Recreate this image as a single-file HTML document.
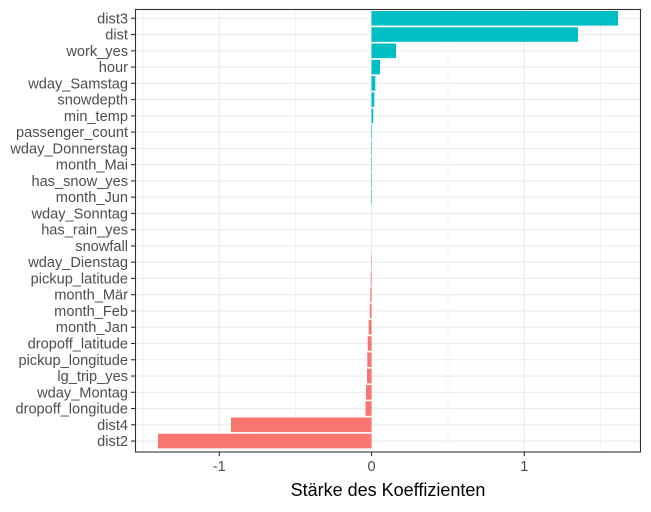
<!DOCTYPE html>
<html><head><meta charset="utf-8"><style>body{margin:0;background:#fff}</style></head><body>
<svg width="651" height="507" xmlns="http://www.w3.org/2000/svg" font-family="Liberation Sans, sans-serif">
<rect width="651" height="507" fill="#fff"/>
<g stroke="#ebebeb" stroke-width="0.6">
<line x1="143" y1="9" x2="143" y2="452"/><line x1="295.5" y1="9" x2="295.5" y2="452"/><line x1="448" y1="9" x2="448" y2="452"/><line x1="600.5" y1="9" x2="600.5" y2="452"/>
</g>
<g stroke="#ebebeb" stroke-width="1.1">
<line x1="219.3" y1="9" x2="219.3" y2="452"/><line x1="371.5" y1="9" x2="371.5" y2="452"/><line x1="524.3" y1="9" x2="524.3" y2="452"/>
<line x1="135" x2="641" y1="18.3" y2="18.3"/><line x1="135" x2="641" y1="34.56" y2="34.56"/><line x1="135" x2="641" y1="50.82" y2="50.82"/><line x1="135" x2="641" y1="67.08" y2="67.08"/><line x1="135" x2="641" y1="83.34" y2="83.34"/><line x1="135" x2="641" y1="99.6" y2="99.6"/><line x1="135" x2="641" y1="115.86" y2="115.86"/><line x1="135" x2="641" y1="132.12" y2="132.12"/><line x1="135" x2="641" y1="148.38" y2="148.38"/><line x1="135" x2="641" y1="164.64" y2="164.64"/><line x1="135" x2="641" y1="180.9" y2="180.9"/><line x1="135" x2="641" y1="197.16" y2="197.16"/><line x1="135" x2="641" y1="213.42" y2="213.42"/><line x1="135" x2="641" y1="229.68" y2="229.68"/><line x1="135" x2="641" y1="245.94" y2="245.94"/><line x1="135" x2="641" y1="262.2" y2="262.2"/><line x1="135" x2="641" y1="278.46" y2="278.46"/><line x1="135" x2="641" y1="294.72" y2="294.72"/><line x1="135" x2="641" y1="310.98" y2="310.98"/><line x1="135" x2="641" y1="327.24" y2="327.24"/><line x1="135" x2="641" y1="343.5" y2="343.5"/><line x1="135" x2="641" y1="359.76" y2="359.76"/><line x1="135" x2="641" y1="376.02" y2="376.02"/><line x1="135" x2="641" y1="392.28" y2="392.28"/><line x1="135" x2="641" y1="408.54" y2="408.54"/><line x1="135" x2="641" y1="424.8" y2="424.8"/><line x1="135" x2="641" y1="441.06" y2="441.06"/>
</g>
<g fill="#00bfc4">
<rect x="371.5" y="11" width="246.5" height="14.6"/>
<rect x="371.5" y="27.26" width="206.5" height="14.6"/>
<rect x="371.5" y="43.52" width="24.5" height="14.6"/>
<rect x="371.5" y="59.78" width="8.5" height="14.6"/>
<rect x="371.5" y="76.04" width="3.8" height="14.6"/>
<rect x="371.5" y="92.3" width="2.8" height="14.6"/>
<rect x="371.5" y="108.56" width="1.8" height="14.6"/>
<rect x="371.5" y="124.82" width="0.6" height="14.6"/>
<rect x="371.5" y="141.08" width="0.5" height="14.6"/>
<rect x="371.5" y="157.34" width="0.5" height="14.6"/>
<rect x="371.5" y="173.6" width="0.5" height="14.6"/>
<rect x="371.5" y="189.86" width="0.5" height="14.6"/>
</g>
<g fill="#f8766d">
<rect x="371" y="254.9" width="0.5" height="14.6"/>
<rect x="370.7" y="271.16" width="0.8" height="14.6"/>
<rect x="370.3" y="287.42" width="1.2" height="14.6"/>
<rect x="369.8" y="303.68" width="1.7" height="14.6"/>
<rect x="368.7" y="319.94" width="2.8" height="14.6"/>
<rect x="367.7" y="336.2" width="3.8" height="14.6"/>
<rect x="367.3" y="352.46" width="4.2" height="14.6"/>
<rect x="367" y="368.72" width="4.5" height="14.6"/>
<rect x="366" y="384.98" width="5.5" height="14.6"/>
<rect x="365.5" y="401.24" width="6" height="14.6"/>
<rect x="231" y="417.5" width="140.5" height="14.6"/>
<rect x="158" y="433.76" width="213.5" height="14.6"/>
</g>
<rect x="135.5" y="9.5" width="505" height="442.5" fill="none" stroke="#333" stroke-width="1.1"/>
<g font-size="14.6" fill="#4d4d4d" text-anchor="end">
<text x="128" y="23.3">dist3</text><text x="128" y="39.56">dist</text><text x="128" y="55.82">work_yes</text><text x="128" y="72.08">hour</text><text x="128" y="88.34">wday_Samstag</text><text x="128" y="104.6">snowdepth</text><text x="128" y="120.86">min_temp</text><text x="128" y="137.12">passenger_count</text><text x="128" y="153.38">wday_Donnerstag</text><text x="128" y="169.64">month_Mai</text><text x="128" y="185.9">has_snow_yes</text><text x="128" y="202.16">month_Jun</text><text x="128" y="218.42">wday_Sonntag</text><text x="128" y="234.68">has_rain_yes</text><text x="128" y="250.94">snowfall</text><text x="128" y="267.2">wday_Dienstag</text><text x="128" y="283.46">pickup_latitude</text><text x="128" y="299.72">month_Mär</text><text x="128" y="315.98">month_Feb</text><text x="128" y="332.24">month_Jan</text><text x="128" y="348.5">dropoff_latitude</text><text x="128" y="364.76">pickup_longitude</text><text x="128" y="381.02">lg_trip_yes</text><text x="128" y="397.28">wday_Montag</text><text x="128" y="413.54">dropoff_longitude</text><text x="128" y="429.8">dist4</text><text x="128" y="446.06">dist2</text>
</g>
<g stroke="#333" stroke-width="1.1">
<line x1="131" x2="135" y1="18.3" y2="18.3"/><line x1="131" x2="135" y1="34.56" y2="34.56"/><line x1="131" x2="135" y1="50.82" y2="50.82"/><line x1="131" x2="135" y1="67.08" y2="67.08"/><line x1="131" x2="135" y1="83.34" y2="83.34"/><line x1="131" x2="135" y1="99.6" y2="99.6"/><line x1="131" x2="135" y1="115.86" y2="115.86"/><line x1="131" x2="135" y1="132.12" y2="132.12"/><line x1="131" x2="135" y1="148.38" y2="148.38"/><line x1="131" x2="135" y1="164.64" y2="164.64"/><line x1="131" x2="135" y1="180.9" y2="180.9"/><line x1="131" x2="135" y1="197.16" y2="197.16"/><line x1="131" x2="135" y1="213.42" y2="213.42"/><line x1="131" x2="135" y1="229.68" y2="229.68"/><line x1="131" x2="135" y1="245.94" y2="245.94"/><line x1="131" x2="135" y1="262.2" y2="262.2"/><line x1="131" x2="135" y1="278.46" y2="278.46"/><line x1="131" x2="135" y1="294.72" y2="294.72"/><line x1="131" x2="135" y1="310.98" y2="310.98"/><line x1="131" x2="135" y1="327.24" y2="327.24"/><line x1="131" x2="135" y1="343.5" y2="343.5"/><line x1="131" x2="135" y1="359.76" y2="359.76"/><line x1="131" x2="135" y1="376.02" y2="376.02"/><line x1="131" x2="135" y1="392.28" y2="392.28"/><line x1="131" x2="135" y1="408.54" y2="408.54"/><line x1="131" x2="135" y1="424.8" y2="424.8"/><line x1="131" x2="135" y1="441.06" y2="441.06"/>
<line x1="219.3" y1="452" x2="219.3" y2="456"/><line x1="371.5" y1="452" x2="371.5" y2="456"/><line x1="524.3" y1="452" x2="524.3" y2="456"/>
</g>
<g font-size="14.6" fill="#4d4d4d" text-anchor="middle">
<text x="219.3" y="471">-1</text><text x="371.5" y="471">0</text><text x="524.3" y="471">1</text>
</g>
<text x="388" y="496" font-size="18" text-anchor="middle" fill="#000">Stärke des Koeffizienten</text>
</svg>
</body></html>
